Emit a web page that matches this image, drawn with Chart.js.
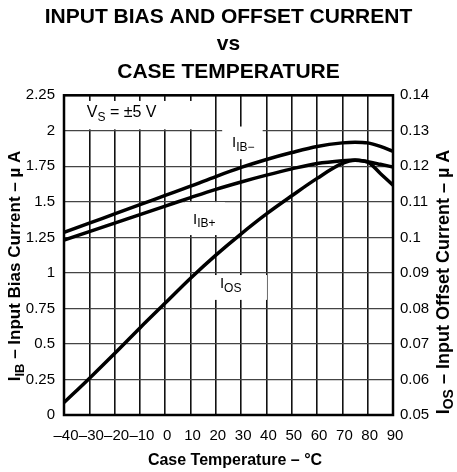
<!DOCTYPE html>
<html lang="en">
<head>
  <meta charset="UTF-8" />
  <title>Input Bias and Offset Current vs Case Temperature</title>
  <script src="https://cdn.jsdelivr.net/npm/chart.js"></script>
  <style>
    * { margin: 0; padding: 0; box-sizing: border-box; }
    body { background: #fff; }
    .wrap { width: 457px; height: 472px; }
  </style>
</head>
<body>
  <div class="wrap"><canvas id="biasChart" width="457" height="472"></canvas></div>

  <script>
    // case temperature, deg C
    const temps = [-40, -30, -20, -10, 0, 10, 20, 30, 40, 50, 60, 70, 75, 80, 85, 90];
    // input bias currents, uA (left axis)
    const ibMinus = [1.285, 1.35, 1.415, 1.48, 1.545, 1.61, 1.678, 1.742, 1.798, 1.847, 1.89, 1.915, 1.92, 1.915, 1.89, 1.855];
    const ibPlus = [1.23, 1.29, 1.35, 1.41, 1.47, 1.53, 1.588, 1.64, 1.688, 1.732, 1.77, 1.79, 1.795, 1.782, 1.764, 1.745];
    // input offset current, uA (right axis)
    const iosVals = [0.0535, 0.0603, 0.0673, 0.0745, 0.0815, 0.0885, 0.095, 0.101, 0.1066, 0.1117, 0.1166, 0.1208, 0.1217, 0.1212, 0.118, 0.1147];

    const xTicks = [-40, -30, -20, -10, 0, 10, 20, 30, 40, 50, 60, 70, 80, 90];
    const leftRange = [0, 2.25];
    const rightRange = [0.05, 0.14];

    const FONT = "'Liberation Sans', Arial, sans-serif";

    function pts(ys) {
      return temps.map((t, i) => ({ x: t, y: ys[i] }));
    }

    function num(v) {
      return String(+v.toFixed(2));
    }

    // text with a subscript part, e.g. I + "IB-"
    function subText(ctx, x, y, main, sub, size, weight, rest) {
      const w = weight || 'normal';
      ctx.font = `${w} ${size}px ${FONT}`;
      ctx.fillText(main, x, y);
      let cx = x + ctx.measureText(main).width;
      ctx.font = `${w} ${Math.round(size * 0.78)}px ${FONT}`;
      ctx.fillText(sub, cx, y + size * 0.3);
      cx += ctx.measureText(sub).width;
      if (rest) {
        ctx.font = `${w} ${size}px ${FONT}`;
        ctx.fillText(rest, cx, y);
        cx += ctx.measureText(rest).width;
      }
      return cx - x;
    }

    function subWidth(ctx, main, sub, size, weight, rest) {
      const w = weight || 'normal';
      ctx.font = `${w} ${size}px ${FONT}`;
      let total = ctx.measureText(main).width + (rest ? ctx.measureText(rest).width : 0);
      ctx.font = `${w} ${Math.round(size * 0.78)}px ${FONT}`;
      return total + ctx.measureText(sub).width;
    }

    function vTitle(ctx, cx, cy, size, sub, rest) {
      ctx.save();
      ctx.translate(cx, cy);
      ctx.rotate(-Math.PI / 2);
      const w = subWidth(ctx, 'I', sub, size, 'bold', rest);
      subText(ctx, -w / 2, 0, 'I', sub, size, 'bold', rest);
      ctx.restore();
    }

    // white label boxes over the grid, in data units [x0, x1, y0, y1]
    const boxes = [
      [-40, 19.5, 2.01, 2.21],
      [22.5, 38.5, 1.80, 2.03],
      [7.8, 23.6, 1.266, 1.498],
      [18.5, 40.2, 0.81, 0.985]
    ];

    const curveLabels = {
      id: 'curveLabels',
      beforeDatasetsDraw(chart) {
        const { ctx, scales: { x, y } } = chart;
        ctx.save();
        ctx.fillStyle = '#fff';
        boxes.forEach(b => {
          const x0 = x.getPixelForValue(b[0]), x1 = x.getPixelForValue(b[1]);
          const y0 = y.getPixelForValue(b[3]), y1 = y.getPixelForValue(b[2]);
          ctx.fillRect(x0, y0, x1 - x0, y1 - y0);
        });
        ctx.fillStyle = '#000';
        ctx.textBaseline = 'middle';
        ctx.textAlign = 'left';
        subText(ctx, x.getPixelForValue(-31), y.getPixelForValue(2.125), 'V', 'S', 16, 'normal', ' = \u00b15 V');
        subText(ctx, x.getPixelForValue(26.4), y.getPixelForValue(1.915), 'I', 'IB\u2212', 15);
        subText(ctx, x.getPixelForValue(11), y.getPixelForValue(1.375), 'I', 'IB+', 15);
        subText(ctx, x.getPixelForValue(21.6), y.getPixelForValue(0.92), 'I', 'OS', 15);
        ctx.restore();
      },
      afterDraw(chart) {
        const { ctx, chartArea: a } = chart;
        ctx.save();
        // plot frame
        ctx.strokeStyle = '#000';
        ctx.lineWidth = 2.5;
        ctx.strokeRect(a.left, a.top, a.right - a.left, a.bottom - a.top);

        ctx.fillStyle = '#000';
        ctx.textBaseline = 'middle';
        ctx.textAlign = 'left';
        vTitle(ctx, 15, 266, 17, 'IB', ' \u2013 Input Bias Current \u2013 \u00b5 A');
        vTitle(ctx, 444, 282, 18, 'OS', ' \u2013 Input Offset Current \u2013 \u00b5 A');

        // x axis title
        ctx.textAlign = 'center';
        ctx.font = `bold 16px ${FONT}`;
        ctx.fillText('Case Temperature \u2013 \u00b0C', 235, 461);
        ctx.restore();
      }
    };

    const line = (data, axis) => ({
      data: data,
      yAxisID: axis,
      borderColor: '#000',
      borderWidth: 3.5,
      pointRadius: 0,
      fill: false,
      cubicInterpolationMode: 'monotone'
    });

    new Chart(document.getElementById('biasChart'), {
      type: 'line',
      data: {
        datasets: [
          line(pts(ibMinus), 'y'),
          line(pts(ibPlus), 'y'),
          line(pts(iosVals), 'y1')
        ]
      },
      options: {
        responsive: false,
        animation: false,
        layout: { padding: 0 },
        plugins: {
          legend: { display: false },
          tooltip: { enabled: false },
          title: {
            display: true,
            text: ['INPUT BIAS AND OFFSET CURRENT', 'vs', 'CASE TEMPERATURE'],
            color: '#000',
            font: { family: FONT, size: 21, weight: 'bold', lineHeight: 1.29 },
            padding: { top: 4, bottom: 10 }
          }
        },
        scales: {
          x: {
            type: 'linear',
            min: -40,
            max: 90,
            afterBuildTicks: s => { s.ticks = xTicks.map(v => ({ value: v })); },
            afterFit: s => { s.height = 57; },
            grid: { color: '#111', lineWidth: 1.6, drawTicks: false },
            border: { display: false },
            ticks: {
              autoSkip: false,
              maxRotation: 0,
              padding: 12,
              labelOffset: 2,
              color: '#000',
              font: { family: FONT, size: 15 },
              callback: v => v < 0 ? '\u2013' + Math.abs(v) : String(v)
            }
          },
          y: {
            position: 'left',
            min: leftRange[0],
            max: leftRange[1],
            afterFit: s => { s.width = 64; },
            grid: { color: '#444', lineWidth: 1.3, drawTicks: false },
            border: { display: false },
            ticks: {
              stepSize: 0.25,
              padding: 9,
              color: '#000',
              font: { family: FONT, size: 15 },
              callback: v => num(v)
            }
          },
          y1: {
            position: 'right',
            min: rightRange[0],
            max: rightRange[1],
            afterFit: s => { s.width = 64; },
            grid: { drawOnChartArea: false, drawTicks: false },
            border: { display: false },
            ticks: {
              stepSize: 0.01,
              padding: 7,
              color: '#000',
              font: { family: FONT, size: 15 },
              callback: v => num(v)
            }
          }
        }
      },
      plugins: [curveLabels]
    });
  </script>
</body>
</html>
